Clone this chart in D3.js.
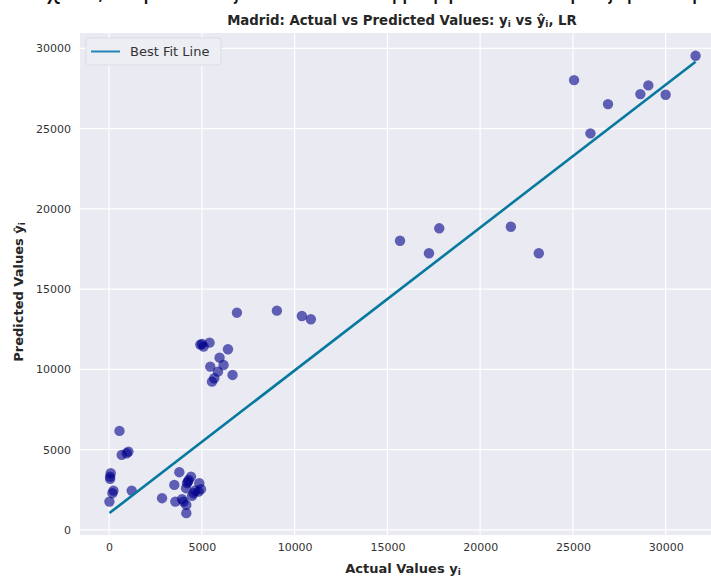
<!DOCTYPE html>
<html>
<head>
<meta charset="utf-8">
<script src="https://cdn.jsdelivr.net/npm/d3@7/dist/d3.min.js"></script>
<style>
  html, body { margin: 0; padding: 0; background: #ffffff; }
  svg { display: block; font-family: "DejaVu Sans", sans-serif; }
</style>
</head>
<body>
<svg id="chart" width="711" height="576"></svg>
<script>
// ---- data ----
const actual = [
  560, 1040, 947, 678, 86, 54, 54, 231, 178, 1217, 16,
  3784, 4414, 4252, 4199, 4861, 3515, 4145, 4952, 4823, 4554, 4468, 2853, 3569, 3930, 4016, 4161, 4161, 4290, 4650,
  5006, 5092, 5415, 4915, 6406, 5953, 5453, 6169, 5867, 6653, 5668, 5544,
  6890, 9044, 10389, 10874, 15681, 17797, 17242, 21656, 23163,
  25064, 25946, 26893, 28638, 29068, 30000, 31614
];
const predicted = [
  6165, 4876, 4776, 4671, 3531, 3320, 3176, 2447, 2286, 2447, 1762,
  3594, 3320, 3008, 2908, 2908, 2803, 2597, 2535, 2385, 2286, 2117, 1974, 1762, 1912, 1762, 1557, 1040, 3110, 2450,
  11584, 11418, 11667, 11543, 11254, 10731, 10170, 10276, 9859, 9653, 9448, 9236,
  13533, 13658, 13328, 13122, 18017, 18790, 17233, 18889, 17233,
  28025, 24706, 26531, 27153, 27695, 27110, 29538
];
const fitX = [16, 31614];
const fitY = [1045, 29170];
const xTicks = [0, 5000, 10000, 15000, 20000, 25000, 30000];
const yTicks = [0, 5000, 10000, 15000, 20000, 25000, 30000];
const xDomain = [-1570, 33200];
const yDomain = [-320, 30960];
const titleText = "Madrid: Actual vs Predicted Values: ";
const legendLabel = "Best Fit Line";
const headerText = "στοιχεία, παρουσιάζονται σε διάγραμμα διασποράς για την πρόβλεψη των τιμών";

// ---- layout ----
const svg = d3.select("#chart");
const plot = { left: 80, right: 725, top: 33, bottom: 535 };

const x = d3.scaleLinear().domain(xDomain).range([plot.left, plot.right]);
const y = d3.scaleLinear().domain(yDomain).range([plot.bottom, plot.top]);

// cropped header text (only its lower part is visible in the reference)
svg.append("text")
  .attr("x", -6).attr("y", -1)
  .attr("font-family", "DejaVu Sans")
  .attr("font-size", 24)
  .attr("fill", "#111")
  .text(headerText);

// background
svg.append("rect")
  .attr("x", plot.left).attr("y", plot.top)
  .attr("width", plot.right - plot.left).attr("height", plot.bottom - plot.top)
  .attr("fill", "#eaeaf2");

// grid
const grid = svg.append("g");
grid.selectAll("line.vx").data(xTicks).enter().append("line")
  .attr("x1", d => x(d)).attr("x2", d => x(d))
  .attr("y1", plot.top).attr("y2", plot.bottom)
  .attr("stroke", "#ffffff").attr("stroke-width", 1.2);
grid.selectAll("line.hy").data(yTicks).enter().append("line")
  .attr("y1", d => y(d)).attr("y2", d => y(d))
  .attr("x1", plot.left).attr("x2", plot.right)
  .attr("stroke", "#ffffff").attr("stroke-width", 1.2);

// axes (tick labels only, seaborn darkgrid style)
const xAxis = d3.axisBottom(x).tickValues(xTicks).tickSize(0).tickPadding(8).tickFormat(d3.format("d"));
const yAxis = d3.axisLeft(y).tickValues(yTicks).tickSize(0).tickPadding(9).tickFormat(d3.format("d"));
const gx = svg.append("g").attr("transform", `translate(0,${plot.bottom})`).call(xAxis);
const gy = svg.append("g").attr("transform", `translate(${plot.left},0)`).call(yAxis);
[gx, gy].forEach(g => {
  g.select(".domain").remove();
  g.selectAll("text").attr("font-family", "DejaVu Sans").attr("font-size", 11).attr("fill", "#333333");
});

// points
svg.append("g").selectAll("circle").data(actual.map((a, i) => [a, predicted[i]])).enter()
  .append("circle")
  .attr("cx", d => x(d[0])).attr("cy", d => y(d[1]))
  .attr("r", 5.2)
  .attr("fill", "#00008b")
  .attr("fill-opacity", 0.6);

// best fit line
const line = d3.line().x(d => x(d[0])).y(d => y(d[1]));
svg.append("path")
  .datum(fitX.map((v, i) => [v, fitY[i]]))
  .attr("d", line)
  .attr("fill", "none")
  .attr("stroke", "#07799f")
  .attr("stroke-width", 2.6);

// legend
const lg = svg.append("g");
lg.append("rect")
  .attr("x", 86).attr("y", 38).attr("width", 135).attr("height", 27).attr("rx", 3)
  .attr("fill", "#ededf4").attr("stroke", "#dcdce5").attr("stroke-width", 1);
lg.append("line")
  .attr("x1", 91).attr("x2", 120).attr("y1", 51.5).attr("y2", 51.5)
  .attr("stroke", "#2286b8").attr("stroke-width", 2);
lg.append("text")
  .attr("x", 130).attr("y", 56)
  .attr("font-size", 13).attr("fill", "#333333")
  .text(legendLabel);

// title
const t = svg.append("text")
  .attr("x", 402).attr("y", 25)
  .attr("text-anchor", "middle")
  .attr("font-size", 13.3).attr("font-weight", "bold").attr("fill", "#262626");
t.append("tspan").text(titleText + "y");
t.append("tspan").attr("font-size", 9).attr("dy", 2).text("i");
t.append("tspan").attr("dy", -2).text(" vs ŷ");
t.append("tspan").attr("font-size", 9).attr("dy", 2).text("i");
t.append("tspan").attr("dy", -2).text(", LR");

// x label
const xl = svg.append("text")
  .attr("x", 403).attr("y", 573)
  .attr("text-anchor", "middle")
  .attr("font-size", 13).attr("font-weight", "bold").attr("fill", "#262626");
xl.append("tspan").text("Actual Values y");
xl.append("tspan").attr("font-size", 9).attr("dy", 2).text("i");

// y label
const yl = svg.append("text")
  .attr("transform", `translate(23,${(plot.top + plot.bottom) / 2 + 8}) rotate(-90)`)
  .attr("text-anchor", "middle")
  .attr("font-size", 13).attr("font-weight", "bold").attr("fill", "#262626");
yl.append("tspan").text("Predicted Values ŷ");
yl.append("tspan").attr("font-size", 9).attr("dy", 2).text("i");
</script>
</body>
</html>
